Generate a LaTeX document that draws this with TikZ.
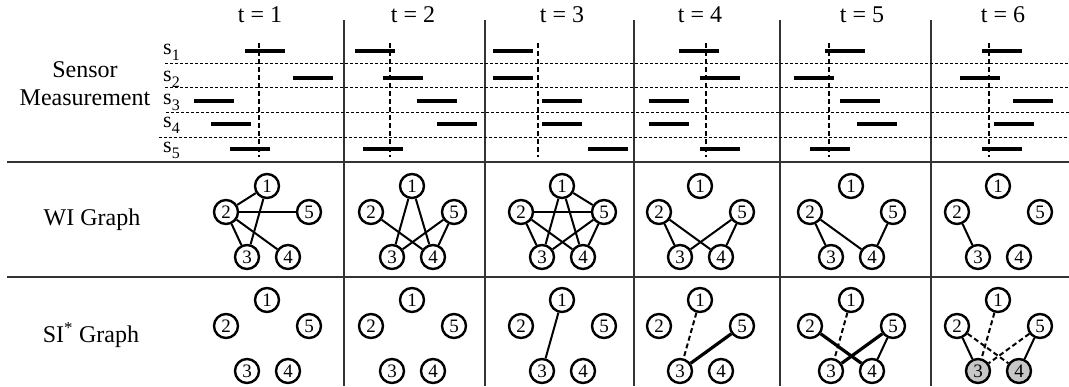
\documentclass[tikz,border=0pt]{standalone}
\usepackage{fontspec}
\setmainfont{Liberation Serif}
\usetikzlibrary{positioning}
\tikzset{
  vtx/.style={
    circle,
    draw,
    line width=2.4pt,
    fill=white,
    minimum size=24pt,
    inner sep=0pt,
    font=\fontsize{19}{19}\selectfont,
  },
  marked/.style={
    vtx,
    fill=black!22,
  },
  edge/.style={
    line width=2pt,
  },
  strong/.style={
    edge,
    line width=3.2pt,
  },
  weak/.style={
    edge,
    dash pattern=on 5pt off 3pt,
  },
  reading/.style={
    line width=4.4pt,
  },
  rowsep/.style={
    line width=1pt,
    dash pattern=on 3pt off 2pt,
  },
  nowline/.style={
    line width=1.1pt,
    dash pattern=on 5pt off 3pt,
  },
  rule/.style={
    line width=1.5pt,
    black!80,
  },
  heading/.style={
    font=\fontsize{24}{28}\selectfont,
  },
  sname/.style={
    anchor=west,
    inner sep=0pt,
    font=\fontsize{22}{22}\selectfont,
  },
}
\newcommand{\sens}[1]{s\raisebox{-6pt}{\fontsize{16}{16}\selectfont #1}}
\newcommand{\pentagon}[4][vtx]{%
  \node[vtx] (#2-1) at (#3,#4) {1};
  \node[vtx,below left=26pt and 41pt of #2-1] (#2-2) {2};
  \node[vtx,below right=26pt and 42pt of #2-1] (#2-5) {5};
  \node[#1,below left=71pt and 20pt of #2-1] (#2-3) {3};
  \node[#1,below right=71pt and 21pt of #2-1] (#2-4) {4};
}

\begin{document}
\begin{tikzpicture}[x=1pt, y=-1pt, on grid]
	\useasboundingbox (0,0) rectangle (1069,386);

	% table frame
	\foreach \x in {344,485,634,780,931}
		\draw[rule] (\x,20) -- (\x,386);
	\draw[rule] (7,162) -- (1069,162);
	\draw[rule] (7,277) -- (1069,277);
	\foreach \x/\y in {165/63,165/87,166/112,159/137}
		\draw[rowsep] (\x,\y) -- (1069,\y);

	% titles
	\node[heading,align=center] (sm) at (85,84) {Sensor\\Measurement};
	\node[heading] (wi) at (92,220) {WI Graph};
	\node[heading] (si) at (91,335) {SI\textsuperscript{*} Graph};
	\foreach \t/\x in {1/260,2/413,3/562,4/700,5/862,6/1003}
		\node[heading] (t\t) at (\x,15) {t = \t};
	\foreach \i/\y in {1/51,2/78,3/101,4/124,5/149}
		\node[sname] (s\i) at (163,\y+1) {\sens{\i}};

	% measurements
	\foreach \x in {259,390,538,706,829,989}
		\draw[nowline] (\x,43) -- (\x,157);
	\foreach \x/\y in {245/51,293/78,194/101,211/124,230/149,
		355/51,383/78,417/101,437/124,363/149,
		493/51,493/78,542/101,542/124,588/149,
		679/51,700/78,649/101,649/124,700/149,
		825/51,794/78,840/101,857/124,810/149,
		982/51,960/78,1013/101,994/124,982/149}
		\draw[reading] (\x,\y) -- ++(40,0);

	% WI graphs
	\pentagon{w1}{267}{186}
	\pentagon{w2}{412}{186}
	\pentagon{w3}{562}{186}
	\pentagon{w4}{700}{186}
	\pentagon{w5}{851}{186}
	\pentagon{w6}{998}{186}
	\foreach \a/\b in {1/2,1/3,2/5,2/3,2/4}
		\draw[edge] (w1-\a) -- (w1-\b);
	\foreach \a/\b in {1/3,1/4,2/4,5/3,5/4}
		\draw[edge] (w2-\a) -- (w2-\b);
	\foreach \a/\b in {1/3,1/4,1/5,2/5,2/3,2/4,5/3,5/4}
		\draw[edge] (w3-\a) -- (w3-\b);
	\foreach \a/\b in {2/3,2/4,5/3,5/4}
		\draw[edge] (w4-\a) -- (w4-\b);
	\foreach \a/\b in {2/3,2/4,5/4}
		\draw[edge] (w5-\a) -- (w5-\b);
	\draw[edge] (w6-2) -- (w6-3);

	% SI graphs
	\pentagon{i1}{267}{300}
	\pentagon{i2}{412}{300}
	\pentagon{i3}{562}{300}
	\pentagon{i4}{700}{300}
	\pentagon{i5}{851}{300}
	\pentagon[marked]{i6}{998}{300}
	\draw[edge] (i3-1) -- (i3-3);
	\draw[weak] (i4-1) -- (i4-3);
	\draw[strong] (i4-3) -- (i4-5);
	\draw[weak] (i5-1) -- (i5-3);
	\draw[strong] (i5-2) -- (i5-4);
	\draw[strong] (i5-5) -- (i5-3);
	\draw[edge] (i5-5) -- (i5-4);
	\foreach \a/\b in {1/3,2/4,5/3}
		\draw[weak] (i6-\a) -- (i6-\b);
	\draw[edge] (i6-2) -- (i6-3);
	\draw[edge] (i6-5) -- (i6-4);
\end{tikzpicture}
\end{document}
